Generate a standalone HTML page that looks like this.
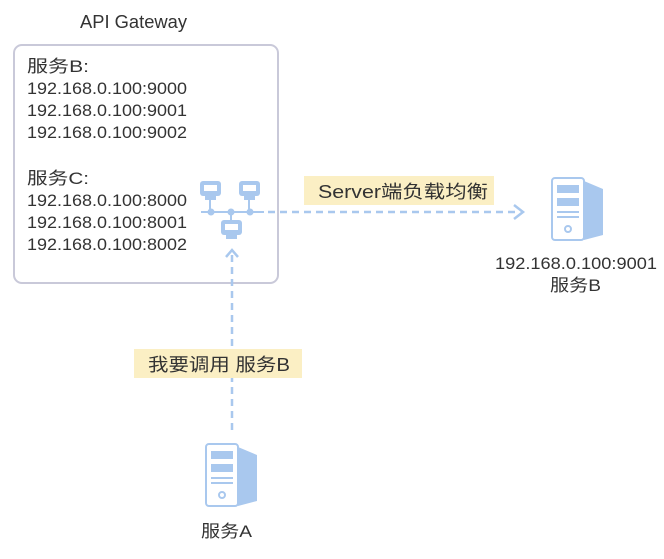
<!DOCTYPE html>
<html><head><meta charset="utf-8"><style>
body{margin:0;background:#fff;}
svg text{font-family:"Liberation Sans","Noto Sans CJK SC",sans-serif;fill:#333;}
</style></head><body>
<svg width="664" height="554" viewBox="0 0 664 554" xmlns="http://www.w3.org/2000/svg">
<defs>
<g id="srv">
  <rect x="1" y="1" width="32" height="62" rx="3" fill="#fff" stroke="#a9c8ee" stroke-width="2"/>
  <path d="M33 4 L52 12 L52 58 L33 63 Z" fill="#a9c8ee"/>
  <rect x="6" y="8" width="22" height="8" fill="#a9c8ee"/>
  <rect x="6" y="21" width="22" height="8" fill="#a9c8ee"/>
  <rect x="6" y="34" width="22" height="2" fill="#a9c8ee"/>
  <rect x="6" y="39" width="22" height="2" fill="#a9c8ee"/>
  <circle cx="17" cy="52" r="3" fill="none" stroke="#a9c8ee" stroke-width="2"/>
</g>
<g id="mon">
  <rect x="0" y="0" width="21" height="15" rx="3" fill="#a9c8ee"/>
  <rect x="4" y="4" width="13" height="6" fill="#fff"/>
  <rect x="5" y="15" width="11" height="4" fill="#a9c8ee"/>
</g>
</defs>
<text x="80" y="28" font-size="18" textLength="107" lengthAdjust="spacingAndGlyphs">API Gateway</text>
<rect x="14" y="45" width="264" height="238" rx="8" fill="#fff" stroke="#c9c9d9" stroke-width="2"/>
<g font-size="17" fill="#444">
<text x="27" y="72" textLength="62" lengthAdjust="spacingAndGlyphs">服务B:</text>
<text x="27" y="94" textLength="160" lengthAdjust="spacingAndGlyphs">192.168.0.100:9000</text>
<text x="27" y="116" textLength="160" lengthAdjust="spacingAndGlyphs">192.168.0.100:9001</text>
<text x="27" y="138" textLength="160" lengthAdjust="spacingAndGlyphs">192.168.0.100:9002</text>
<text x="27" y="184" textLength="62" lengthAdjust="spacingAndGlyphs">服务C:</text>
<text x="27" y="206" textLength="160" lengthAdjust="spacingAndGlyphs">192.168.0.100:8000</text>
<text x="27" y="228" textLength="160" lengthAdjust="spacingAndGlyphs">192.168.0.100:8001</text>
<text x="27" y="250" textLength="160" lengthAdjust="spacingAndGlyphs">192.168.0.100:8002</text>
</g>
<use href="#mon" x="200" y="181"/>
<use href="#mon" x="239" y="181"/>
<line x1="210" y1="198" x2="210" y2="212" stroke="#a9c8ee" stroke-width="2"/>
<line x1="249" y1="198" x2="249" y2="212" stroke="#a9c8ee" stroke-width="2"/>
<line x1="201" y1="212" x2="264" y2="212" stroke="#a9c8ee" stroke-width="2"/>
<line x1="231" y1="212" x2="231" y2="221" stroke="#a9c8ee" stroke-width="2"/>
<circle cx="211" cy="212" r="3.5" fill="#a9c8ee"/>
<circle cx="231" cy="212" r="3.5" fill="#a9c8ee"/>
<circle cx="250" cy="212" r="3.5" fill="#a9c8ee"/>
<use href="#mon" x="221" y="220"/>
<line x1="268" y1="212" x2="520" y2="212" stroke="#a9c8ee" stroke-width="2.5" stroke-dasharray="7,5"/>
<path d="M514 205 L523 212 L514 219" fill="none" stroke="#a9c8ee" stroke-width="2.5"/>
<rect x="304" y="176" width="190" height="29" fill="#fbefc4"/>
<text x="318" y="198" font-size="18" textLength="170" lengthAdjust="spacingAndGlyphs">Server端负载均衡</text>
<line x1="232" y1="430" x2="232" y2="250" stroke="#a9c8ee" stroke-width="2.5" stroke-dasharray="7,5"/>
<path d="M226 257 L232 250 L238 257" fill="none" stroke="#a9c8ee" stroke-width="2.5"/>
<rect x="134" y="349" width="168" height="29" fill="#fbefc4"/>
<text x="148" y="371" font-size="18" textLength="142" lengthAdjust="spacingAndGlyphs">我要调用 服务B</text>
<use href="#srv" x="205" y="443"/>
<text x="201" y="537" font-size="17" textLength="51" lengthAdjust="spacingAndGlyphs">服务A</text>
<use href="#srv" x="551" y="177"/>
<text x="495" y="269" font-size="17" textLength="162" lengthAdjust="spacingAndGlyphs">192.168.0.100:9001</text>
<text x="550" y="291" font-size="17" textLength="51" lengthAdjust="spacingAndGlyphs">服务B</text>
</svg>
</body></html>
